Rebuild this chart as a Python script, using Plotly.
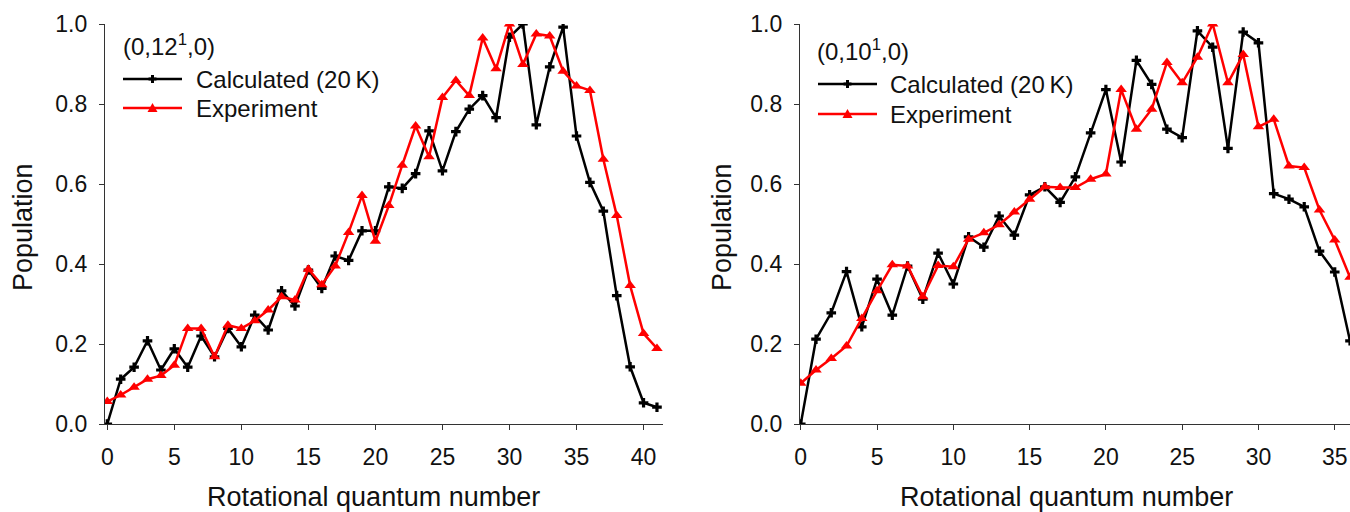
import plotly.graph_objects as go

# ---------------- data ----------------
j_left = list(range(0, 42))
calc_left = [0.0, 0.112, 0.142, 0.208, 0.135, 0.188, 0.142, 0.220, 0.168, 0.239,
             0.193, 0.272, 0.235, 0.333, 0.295, 0.385, 0.339, 0.420, 0.409, 0.483,
             0.483, 0.593, 0.589, 0.626, 0.733, 0.633, 0.731, 0.787, 0.821, 0.766,
             0.967, 1.000, 0.748, 0.893, 0.992, 0.720, 0.604, 0.532, 0.321, 0.143,
             0.053, 0.042]
exp_left = [0.056, 0.0725, 0.092, 0.112, 0.121, 0.147, 0.239, 0.239, 0.168, 0.247,
            0.239, 0.258, 0.285, 0.318, 0.310, 0.387, 0.348, 0.395, 0.479, 0.571,
            0.457, 0.546, 0.647, 0.745, 0.668, 0.816, 0.859, 0.821, 0.965, 0.888,
            1.000, 0.899, 0.975, 0.970, 0.882, 0.845, 0.834, 0.662, 0.521, 0.346,
            0.226, 0.189]

j_right = list(range(0, 37))
calc_right = [0.0, 0.212, 0.278, 0.381, 0.243, 0.362, 0.272, 0.395, 0.312, 0.427,
              0.350, 0.468, 0.442, 0.520, 0.472, 0.573, 0.593, 0.554, 0.618, 0.728,
              0.836, 0.655, 0.909, 0.849, 0.737, 0.716, 0.983, 0.942, 0.689, 0.980,
              0.953, 0.576, 0.562, 0.543, 0.432, 0.380, 0.208]
exp_right = [0.102, 0.135, 0.164, 0.195, 0.264, 0.333, 0.398, 0.395, 0.318, 0.396,
             0.393, 0.462, 0.478, 0.498, 0.530, 0.562, 0.593, 0.591, 0.591, 0.612,
             0.625, 0.836, 0.737, 0.787, 0.904, 0.853, 0.917, 1.000, 0.853, 0.924,
             0.743, 0.762, 0.645, 0.641, 0.535, 0.460, 0.367]

y_ticks = [0.0, 0.2, 0.4, 0.6, 0.8, 1.0]
x_ticks_left = [0, 5, 10, 15, 20, 25, 30, 35, 40]
x_ticks_right = [0, 5, 10, 15, 20, 25, 30, 35]

panel_titles = ["(0,12<sup>1</sup>,0)", "(0,10<sup>1</sup>,0)"]
series_names = ["Calculated (20\u2009K)", "Experiment"]
x_title = "Rotational quantum number"
y_title = "Population"

# ---------------- style ----------------
W, H = 1350, 512
FONT = "Liberation Sans, Arial, sans-serif"
BLACK = "#000000"
RED = "#ff0000"
AXC = "#333333"
TXT = "#111111"

def px(x):
    return x / W

def py(y):
    return 1 - y / H

fig = go.Figure()

def add_series(x, y, xa, ya, color, symbol, size):
    fig.add_trace(go.Scatter(
        x=x, y=y, xaxis=xa, yaxis=ya, mode="lines+markers",
        line=dict(color=color, width=2.5),
        marker=dict(color=color, symbol=symbol, size=size, line=dict(width=0)),
        cliponaxis=True, showlegend=False, hoverinfo="skip"))

add_series(j_left, calc_left, "x", "y", BLACK, "cross", 8)
add_series(j_left, exp_left, "x", "y", RED, "triangle-up", 10)
add_series(j_right, calc_right, "x2", "y2", BLACK, "cross", 8)
add_series(j_right, exp_right, "x2", "y2", RED, "triangle-up", 10)

ydom = [py(424), py(24)]
axis_common = dict(showline=True, linecolor=AXC, linewidth=1.3, ticks="outside",
                   ticklen=5, tickcolor=AXC, tickwidth=1.3, showgrid=False,
                   zeroline=False, automargin=False,
                   tickfont=dict(family=FONT, size=23, color=TXT))

fig.update_layout(
    template="none",
    width=W, height=H, margin=dict(l=0, r=0, t=0, b=0, pad=0), autosize=False,
    paper_bgcolor="white", plot_bgcolor="white",
    xaxis=dict(domain=[px(105), px(663)], range=[-0.17, 41.45], tickvals=x_ticks_left,
               anchor="y", ticklabelstandoff=7, **axis_common),
    yaxis=dict(domain=ydom, range=[0, 1], tickvals=y_ticks, tickformat=".1f",
               anchor="x", ticklabelstandoff=7, **axis_common),
    xaxis2=dict(domain=[px(800), 1.0], range=[-0.05, 36.0], tickvals=x_ticks_right,
                anchor="y2", ticklabelstandoff=7, **axis_common),
    yaxis2=dict(domain=ydom, range=[0, 1], tickvals=y_ticks, tickformat=".1f",
                anchor="x2", ticklabelstandoff=7, **axis_common),
    showlegend=False,
)

ann_font = dict(family=FONT, size=24, color=TXT)
title_font = dict(family=FONT, size=27, color=TXT)
annotations = []
# axis titles
for xl in (205, 898):
    annotations.append(dict(text=x_title, x=px(xl), y=py(497), xref="paper", yref="paper",
                            xanchor="left", yanchor="middle", showarrow=False,
                            font=title_font))
for xc in (23, 722):
    annotations.append(dict(text=y_title, x=px(xc), y=py(227), xref="paper", yref="paper",
                            xanchor="center", yanchor="middle", textangle=-90, showarrow=False,
                            font=title_font))

# legends (manual)
shapes = []
legend_specs = [
    dict(title=panel_titles[0], tx=121, ty=45, lx0=123, lx1=182, y1=79, y2=108, txt=194),
    dict(title=panel_titles[1], tx=815, ty=50, lx0=818, lx1=877, y1=84, y2=114, txt=888),
]
for spec in legend_specs:
    annotations.append(dict(text=spec["title"], x=px(spec["tx"]), y=py(spec["ty"]),
                            xref="paper", yref="paper", xanchor="left", yanchor="middle",
                            showarrow=False, font=ann_font))
    for name, yy, col, kind in ((series_names[0], spec["y1"], BLACK, "cross"),
                                (series_names[1], spec["y2"], RED, "tri")):
        annotations.append(dict(text=name, x=px(spec["txt"]), y=py(yy), xref="paper",
                                yref="paper", xanchor="left", yanchor="middle",
                                showarrow=False, font=ann_font))
        shapes.append(dict(type="line", xref="paper", yref="paper",
                           x0=px(spec["lx0"]), x1=px(spec["lx1"]), y0=py(yy), y1=py(yy),
                           line=dict(color=col, width=2.5)))
        if kind == "cross":
            path = ("M-1.5,-4 L1.5,-4 L1.5,-1.5 L4,-1.5 L4,1.5 L1.5,1.5 L1.5,4 L-1.5,4 "
                    "L-1.5,1.5 L-4,1.5 L-4,-1.5 L-1.5,-1.5 Z")
        else:
            path = "M-5,-4 L5,-4 L0,5 Z"
        shapes.append(dict(type="path", xref="paper", yref="paper",
                           xsizemode="pixel", ysizemode="pixel",
                           xanchor=px((spec["lx0"] + spec["lx1"]) / 2), yanchor=py(yy),
                           path=path, fillcolor=col, line=dict(width=0)))

fig.update_layout(annotations=annotations, shapes=shapes)
fig.write_html("out.html", config={"responsive": False, "displayModeBar": False},
               post_script="document.body.style.margin='0';document.body.style.overflow='hidden';")
